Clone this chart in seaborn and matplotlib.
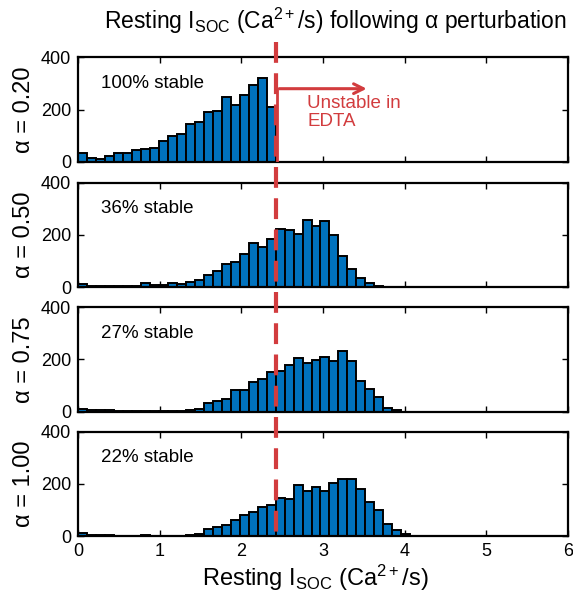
import numpy as np
import pandas as pd
import matplotlib
matplotlib.use("Agg")
import matplotlib.pyplot as plt
import seaborn as sns
from matplotlib.lines import Line2D
from matplotlib.transforms import blended_transform_factory

# ---------------- data ----------------
BIN_WIDTH = 0.11          # Ca2+/s per bin
THRESHOLD = 2.42          # stability threshold (Ca2+/s)

alpha_labels = ["0.20", "0.50", "0.75", "1.00"]
stable_labels = ["100% stable", "36% stable", "27% stable", "22% stable"]

counts_a020 = [31, 15, 10, 23, 32, 32, 45, 48, 53, 79, 98, 105, 145, 152, 190,
               194, 247, 218, 254, 295, 323, 208]
counts_a050 = [13, 5, 4, 4, 3, 3, 4, 14, 6, 7, 15, 13, 19, 27, 47, 62, 90, 95,
               128, 170, 153, 183, 224, 219, 204, 256, 234, 255, 200, 119, 70,
               34, 14, 3, 0, 0, 0]
counts_a075 = [10, 5, 4, 4, 3, 3, 3, 2, 3, 3, 3, 3, 4, 9, 33, 42, 50, 82, 83,
               115, 126, 150, 155, 179, 206, 185, 197, 211, 196, 231, 193, 119,
               85, 54, 13, 4, 0]
counts_a100 = [10, 4, 3, 3, 2, 2, 2, 3, 2, 1, 2, 2, 4, 9, 26, 35, 44, 61, 80,
               93, 112, 119, 148, 142, 196, 173, 190, 173, 203, 219, 218, 181,
               129, 99, 48, 25, 8]

all_counts = [counts_a020, counts_a050, counts_a075, counts_a100]

ARROW_Y = 280
ARROW_END = 3.57

# ---------------- style ----------------
sns.set_style("ticks")
plt.rcParams["font.family"] = ["Liberation Sans", "DejaVu Sans"]
plt.rcParams["mathtext.fontset"] = "custom"
plt.rcParams["mathtext.rm"] = "Liberation Sans"
plt.rcParams["mathtext.it"] = "Liberation Sans:italic"
plt.rcParams["mathtext.bf"] = "Liberation Sans:bold"
plt.rcParams["mathtext.default"] = "regular"
for key in ["text.color", "axes.labelcolor", "xtick.color", "ytick.color",
            "xtick.labelcolor", "ytick.labelcolor", "axes.edgecolor"]:
    plt.rcParams[key] = "black"

BLUE = "#0072BD"
RED = "#D23C3E"

fig = plt.figure(figsize=(5.73, 6.05), dpi=100)
bottoms = [0.733, 0.5256, 0.3198, 0.1140]
left, width, height = 0.1361, 0.855, 0.172

axes = []
for i, (counts, a_lab, s_lab) in enumerate(zip(all_counts, alpha_labels, stable_labels)):
    ax = fig.add_axes([left, bottoms[i], width, height])
    nb = len(counts)
    centers = (np.arange(nb) + 0.5) * BIN_WIDTH
    df = pd.DataFrame({"isoc": centers, "n": counts})
    sns.histplot(data=df, x="isoc", weights="n", binwidth=BIN_WIDTH,
                 binrange=(0, nb * BIN_WIDTH), color=BLUE,
                 edgecolor="black", linewidth=1.4, alpha=1, ax=ax)
    ax.set_xlim(0, 6)
    ax.set_ylim(0, 400)
    ax.set_yticks([0, 200, 400])
    ax.set_xticks(range(7))
    ax.tick_params(direction="in", top=True, right=True, length=4, width=1,
                   labelsize=13, pad=5, colors="black")
    if i < 3:
        ax.tick_params(labelbottom=False)
    ax.set_xlabel("")
    ax.set_ylabel(f"α = {a_lab}", fontsize=17, color="black")
    ax.yaxis.set_label_coords(-0.088, 0.5)
    for sp in ax.spines.values():
        sp.set_linewidth(1.6)
        sp.set_color("black")
        sp.set_visible(True)
    ax.text(0.046, 0.75, s_lab, transform=ax.transAxes, fontsize=13.5,
            ha="left", va="center", color="black")
    axes.append(ax)

# arrow and annotation in the top panel
ax1 = axes[0]
ax1.plot([THRESHOLD + 0.02, THRESHOLD + 0.02], [0, ARROW_Y], color=RED, lw=2,
         zorder=6, solid_capstyle="butt")
ax1.annotate("", xy=(ARROW_END, ARROW_Y), xytext=(THRESHOLD + 0.01, ARROW_Y),
             arrowprops=dict(arrowstyle="->,head_length=0.7,head_width=0.35",
                             color=RED, lw=2.2), zorder=6)
ax1.text(2.81, 188, "Unstable in\nEDTA", color=RED, fontsize=13.5,
         ha="left", va="center", linespacing=1.1)

# dashed threshold line across all panels
trans = blended_transform_factory(axes[-1].transData, fig.transFigure)
fig.add_artist(Line2D([THRESHOLD, THRESHOLD], [1 - 42 / 605, 1 - 539 / 605],
                      transform=trans, color=RED, lw=3,
                      linestyle=(0, (5, 2.5)), zorder=10))

fig.text(0.5855, 0.952, r"Resting I$_{SOC}$ (Ca$^{2+}$/s) following α perturbation",
         ha="center", va="baseline", fontsize=16.5, color="black")
fig.text(0.55, 0.0314, r"Resting I$_{SOC}$ (Ca$^{2+}$/s)",
         ha="center", va="baseline", fontsize=17, color="black")

fig.savefig("out.png", dpi=100)
